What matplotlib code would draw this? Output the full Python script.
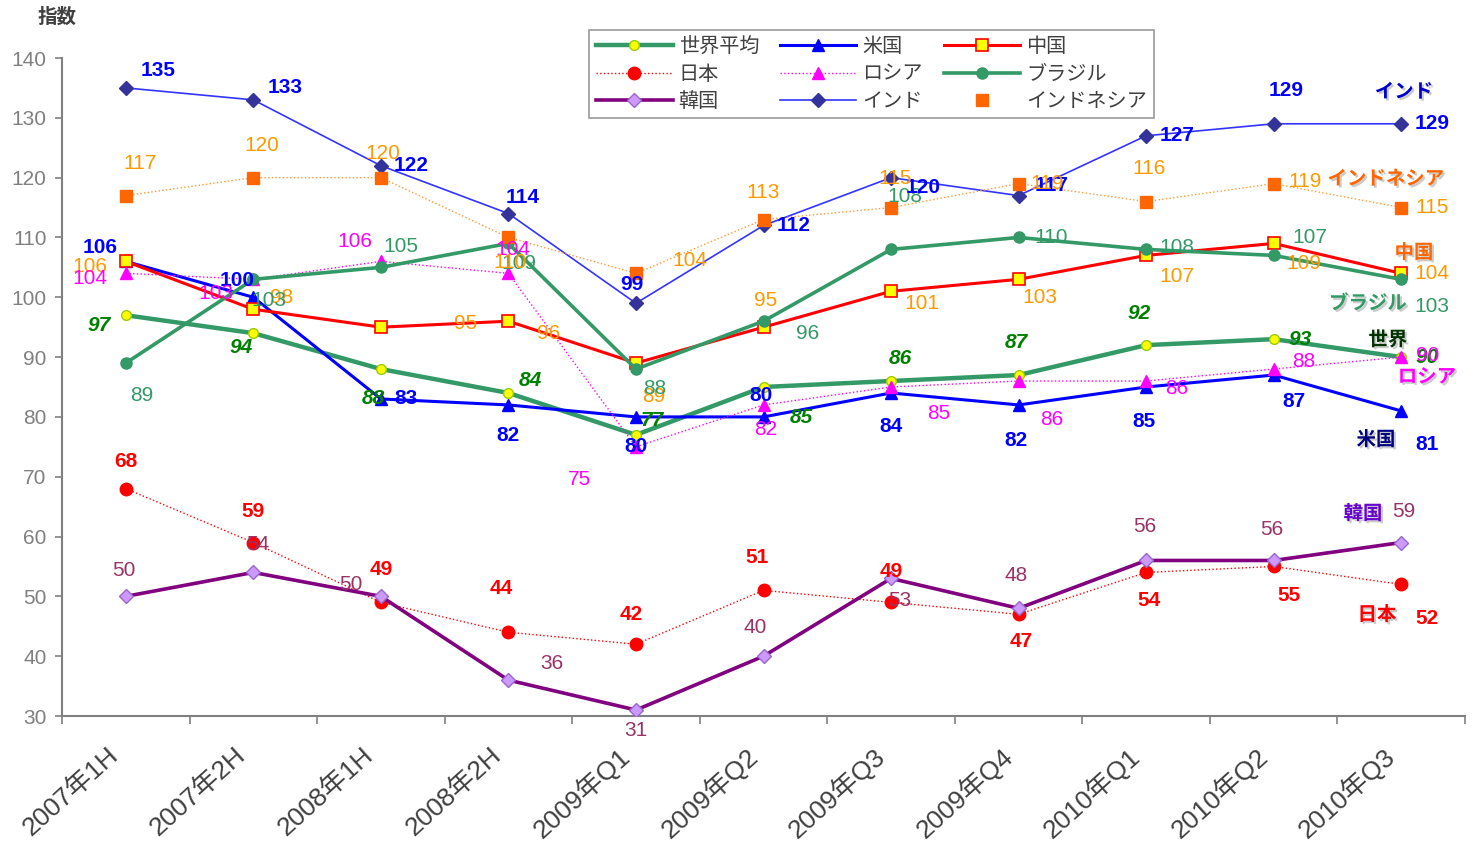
import matplotlib
matplotlib.use("Agg")
import matplotlib.pyplot as plt
import matplotlib.patheffects as pe
from matplotlib.lines import Line2D

plt.rcParams['font.family'] = ['Liberation Sans', 'Noto Sans CJK JP', 'DejaVu Sans']

categories = ["2007年1H", "2007年2H", "2008年1H", "2008年2H", "2009年Q1", "2009年Q2",
              "2009年Q3", "2009年Q4", "2010年Q1", "2010年Q2", "2010年Q3"]

world = [97, 94, 88, 84, 77, 85, 86, 87, 92, 93, 90]
usa = [106, 100, 83, 82, 80, 80, 84, 82, 85, 87, 81]
china = [106, 98, 95, 96, 89, 95, 101, 103, 107, 109, 104]
japan = [68, 59, 49, 44, 42, 51, 49, 47, 54, 55, 52]
russia = [104, 103, 106, 104, 75, 82, 85, 86, 86, 88, 90]
brazil = [89, 103, 105, 109, 88, 96, 108, 110, 108, 107, 103]
korea = [50, 54, 50, 36, 31, 40, 53, 48, 56, 56, 59]
india = [135, 133, 122, 114, 99, 112, 120, 117, 127, 129, 129]
indonesia = [117, 120, 120, 110, 104, 113, 115, 119, 116, 119, 115]

names = ["世界平均", "米国", "中国", "日本", "ロシア", "ブラジル", "韓国", "インド", "インドネシア"]
series = [world, usa, china, japan, russia, brazil, korea, india, indonesia]

# styles
styles = [
    dict(color='#339966', lw=3.2, ls='-', marker='o', ms=7, mfc='#FFFF00', mec='#99CC00', mew=1),
    dict(color='#0000FF', lw=2.2, ls='-', marker='^', ms=8, mfc='#0000FF', mec='#0000FF', mew=1),
    dict(color='#FF0000', lw=2.2, ls='-', marker='s', ms=9, mfc='#FFFF00', mec='#FF0000', mew=1.2),
    dict(color='#FF0000', lw=1.0, ls=':', marker='o', ms=9, mfc='#FF0000', mec='#FF0000', mew=1),
    dict(color='#FF00FF', lw=1.0, ls=':', marker='^', ms=9, mfc='#FF00FF', mec='#FF00FF', mew=1),
    dict(color='#339966', lw=2.6, ls='-', marker='o', ms=8, mfc='#339966', mec='#339966', mew=1),
    dict(color='#800080', lw=2.6, ls='-', marker='D', ms=7, mfc='#CC99FF', mec='#9966CC', mew=1),
    dict(color='#3333FF', lw=1.2, ls='-', marker='D', ms=7, mfc='#333399', mec='#333399', mew=1),
    dict(color='#FF9933', lw=1.0, ls=':', marker='s', ms=9, mfc='#FF6600', mec='#FF6600', mew=1),
]

label_colors = ['#008000', '#0000FF', '#FF9900', '#FF0000', '#FF00FF', '#339966', '#993366', '#0000FF', '#FF9900']
label_weights = ['bold', 'bold', 'normal', 'bold', 'normal', 'normal', 'normal', 'bold', 'normal']
label_styles = ['italic', 'normal', 'normal', 'normal', 'normal', 'normal', 'normal', 'normal', 'normal']

# label offsets in pixels (dx right, dy down)
offsets = [
    [(-27, 10), (-12, 14), (-8, 29), (22, -12), (16, -14), (38, 30), (9, -23), (-2, -33), (-7, -32), (26, 0), (26, 0)],
    [(-26, -14), (-16, -17), (25, 0), (0, 31), (0, 30), (-2, -21), (0, 34), (-3, 36), (-2, 34), (20, 26), (26, 34)],
    [(-36, 5), (28, -12), (85, -4), (40, 12), (18, 33), (2, -27), (31, 12), (21, 18), (31, 21), (30, 20), (31, 0)],
    [(0, -27), (0, -31), (0, -33), (-7, -44), (-5, -30), (-6, -33), (0, -31), (3, 27), (3, 28), (15, 29), (26, 34)],
    [(-36, 5), (-37, 14), (-26, -20), (4, -24), (-56, 33), (2, 25), (48, 26), (33, 38), (31, 7), (30, -8), (26, -2)],
    [(16, 32), (16, 21), (20, -21), (10, 20), (19, 19), (44, 12), (14, -53), (33, 0), (31, -2), (36, -18), (31, 27)],
    [(-2, -26), (4, -28), (-30, -12), (43, -17), (0, 20), (-8, -29), (9, 22), (-2, -33), (-1, -34), (-2, -31), (3, -31)],
    [(32, -17), (32, -12), (30, 0), (14, -16), (-4, -19), (30, 0), (32, 10), (33, -10), (31, 0), (12, -33), (31, 0)],
    [(14, -32), (8, -32), (2, -24), (2, 25), (54, -13), (0, -27), (4, -29), (28, 0), (3, -33), (31, -2), (31, 0)],
]

fig = plt.figure(figsize=(14.77, 8.46), dpi=100)
ax = fig.add_axes([62/1477, 1 - 716/846, (1465 - 62)/1477, (716 - 58)/846])

x = list(range(len(categories)))
lines = []
for name, vals, st in zip(names, series, styles):
    ln, = ax.plot(x, vals, color=st['color'], lw=st['lw'], ls=st['ls'], marker=st['marker'],
                  ms=st['ms'], mfc=st['mfc'], mec=st['mec'], mew=st['mew'], label=name, zorder=3)
    lines.append(ln)

for vals, offs, c, w, s in zip(series, offsets, label_colors, label_weights, label_styles):
    for i, v in enumerate(vals):
        dx, dy = offs[i]
        ax.annotate(str(v), (i, v), xytext=(dx, -dy), textcoords='offset pixels',
                    ha='center', va='center', fontsize=15, color=c, fontweight=w,
                    fontstyle=s, zorder=5)

ax.set_xlim(-0.5, 10.5)
ax.set_ylim(30, 140)
ax.set_yticks(range(30, 141, 10))
# category labels anchored slightly left of each category centre (label tick marks are hidden)
ax.set_xticks([i - 0.15 for i in x])
ax.set_xticklabels(categories, rotation=42, ha='right', va='top', rotation_mode='anchor',
                   fontsize=19, color='#404040')
ax.set_xticks([i - 0.5 for i in range(len(categories) + 1)], minor=True)
ax.tick_params(axis='x', which='major', length=0, pad=19)
ax.tick_params(axis='x', which='minor', length=6, width=1.2, color='#808080', direction='out')
ax.tick_params(axis='y', length=5, width=1.2, color='#808080', labelsize=15, labelcolor='#808080', pad=6)
for sp in ['top', 'right']:
    ax.spines[sp].set_visible(False)
for sp in ['left', 'bottom']:
    ax.spines[sp].set_color('#808080')
    ax.spines[sp].set_linewidth(1.5)

fig.text(57/1477, 1 - 17/846, "指数", ha='center', va='center', fontsize=14, fontweight='bold', color='#404040')

# series name labels
shadow = [pe.SimplePatchShadow(offset=(1.5, -1.5), shadow_rgbFace='#999999', alpha=0.5), pe.Normal()]
name_labels = [
    ("インド", 1404, 93, '#0000CC'),
    ("インドネシア", 1386, 180, '#FF6600'),
    ("中国", 1414, 253, '#FF6600'),
    ("ブラジル", 1368, 304, '#339966'),
    ("世界", 1388, 340, '#003300'),
    ("ロシア", 1427, 378, '#FF00FF'),
    ("米国", 1376, 440, '#000080'),
    ("韓国", 1363, 514, '#6600CC'),
    ("日本", 1377, 615, '#FF0000'),
]
for txt, px, py, c in name_labels:
    fig.text(px/1477, 1 - py/846, txt, ha='center', va='center', fontsize=14, fontweight='bold',
             color=c, path_effects=shadow, zorder=6)

# legend (row-wise order, column-filled)
handles = []
for ln, st in zip(lines, styles):
    h = Line2D([], [], color=st['color'], lw=st['lw'], ls=st['ls'], marker=st['marker'],
               ms=st['ms'], mfc=st['mfc'], mec=st['mec'], mew=st['mew'])
    handles.append(h)
handles[8] = Line2D([], [], ls='None', marker='s', ms=9, mfc='#FF6600', mec='#FF6600')
order = [0, 3, 6, 1, 4, 7, 2, 5, 8]
leg = fig.legend([handles[i] for i in order], [names[i] for i in order], ncol=3,
                 loc='upper left', bbox_to_anchor=(589/1477, 1 - 118/846, (1154 - 589)/1477, 88/846),
                 mode='expand', borderaxespad=0, fontsize=14.5, frameon=True, fancybox=False,
                 edgecolor='#808080', handlelength=3.8, handletextpad=0.3, labelspacing=0.42,
                 borderpad=0.35, columnspacing=1.0, labelcolor='#404040')
leg.get_frame().set_linewidth(1.2)

fig.savefig("out.png", dpi=100)
